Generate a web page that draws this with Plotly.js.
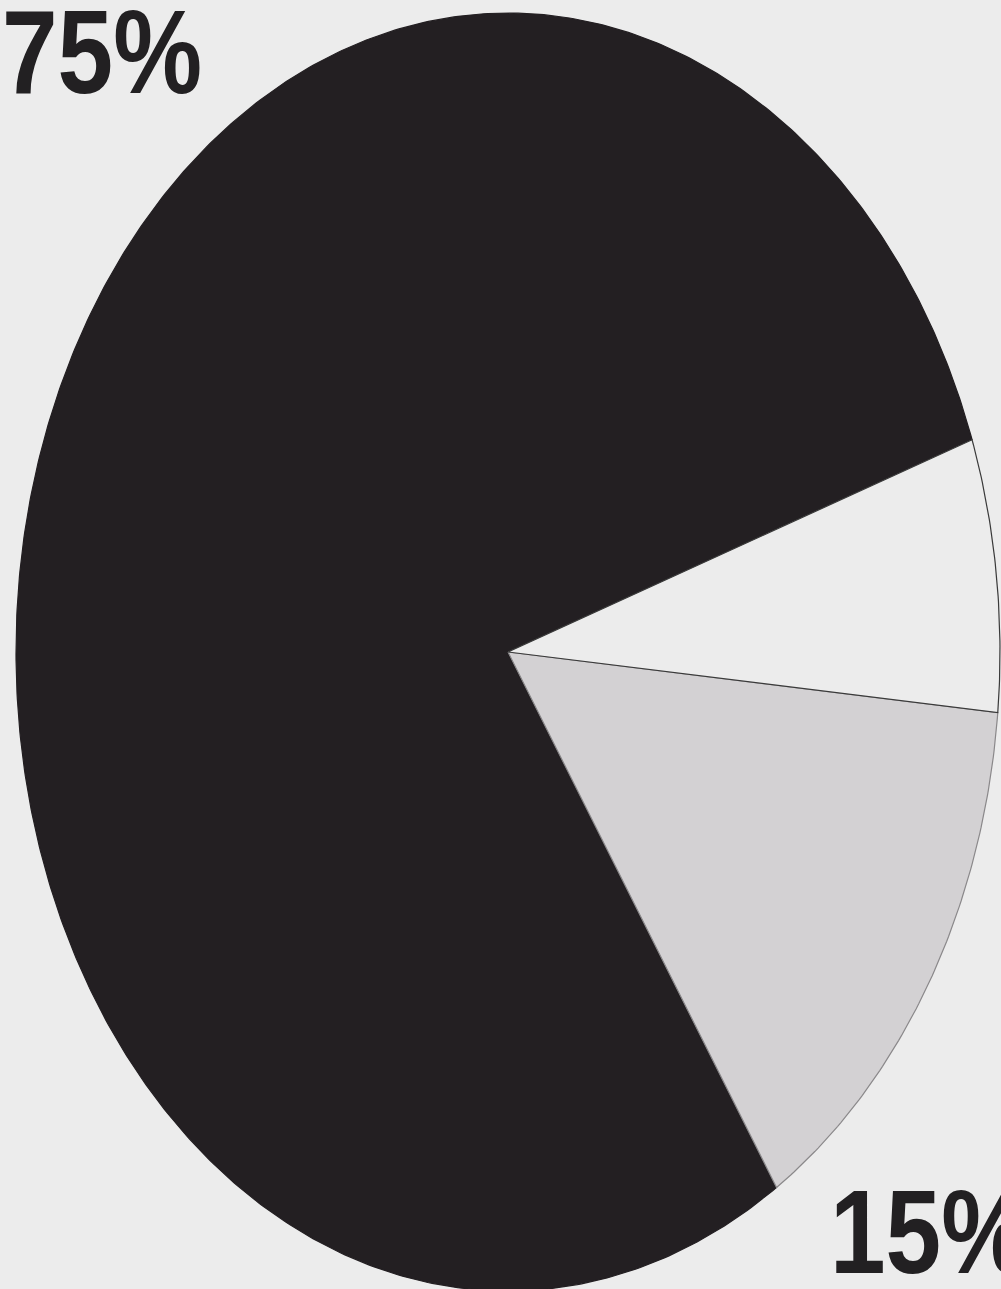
<!DOCTYPE html>
<html>
<head>
<meta charset="utf-8">
<script src="https://cdn.plot.ly/plotly-3.0.1.min.js"></script>
<style>html,body{margin:0;padding:0;background:#ececec;}#chart{width:1001px;height:1289px;}</style>
</head>
<body>
<div id="chart"></div>
<script>
// Data (share of the pie, drawn clockwise from the start angle)
const sliceNames = ['White', 'Grey', 'Black'];
const sliceValues = [6.9, 14.3, 78.8];
const sliceLabels = ['', '15%', '75%'];
const sliceColors = ['#ececec', '#d3d1d3', '#231f22'];
const sliceLines = ['#3a3a3a', '#8a888a', '#231f22'];
const startAngle = 19.4; // degrees, math convention

const total = sliceValues.reduce((a, b) => a + b, 0);
const traces = [];
let cum = 0;
sliceValues.forEach((v, i) => {
  const a0 = startAngle - cum / total * 360;
  const a1 = a0 - v / total * 360;
  cum += v;
  const xs = [0], ys = [0];
  const steps = Math.max(2, Math.ceil(Math.abs(a1 - a0) * 2));
  for (let k = 0; k <= steps; k++) {
    const a = (a0 + (a1 - a0) * k / steps) * Math.PI / 180;
    xs.push(Math.cos(a)); ys.push(Math.sin(a));
  }
  xs.push(0); ys.push(0);
  traces.push({
    type: 'scatter', mode: 'lines', x: xs, y: ys, fill: 'toself',
    fillcolor: sliceColors[i], line: {color: sliceLines[i], width: 1.2},
    name: sliceNames[i], hoverinfo: 'name', showlegend: false
  });
});
// draw the big slice first so the thin outlines stay on top
traces.reverse();

const labelFont = {family: '"Liberation Sans", Arial, sans-serif', size: 119, color: '#222022', weight: 'bold'};
const layout = {
  width: 1001, height: 1289,
  margin: {l: 0, r: 0, t: 0, b: 0},
  paper_bgcolor: '#ececec', plot_bgcolor: '#ececec',
  xaxis: {range: [-508 / 492, (1001 - 508) / 492], visible: false, fixedrange: true},
  yaxis: {range: [-(1289 - 652) / 639, 652 / 639], visible: false, fixedrange: true},
  annotations: [
    {xref: 'paper', yref: 'paper', x: 0.0, y: 1.013, xanchor: 'left', yanchor: 'top',
     text: sliceLabels[2], showarrow: false, font: labelFont},
    {xref: 'paper', yref: 'paper', x: 0.827, y: 0.098, xanchor: 'left', yanchor: 'top',
     text: sliceLabels[1], showarrow: false, font: labelFont}
  ],
  showlegend: false
};
Plotly.newPlot('chart', traces, layout, {displayModeBar: false, staticPlot: true}).then(() => {
  // the reference uses a condensed face: squeeze the label text horizontally
  document.querySelectorAll('#chart text.annotation-text').forEach(t => {
    t.style.transformBox = 'fill-box';
    t.style.transformOrigin = '0 0';
    t.style.transform = 'scaleX(0.84)';
  });
});
</script>
</body>
</html>
